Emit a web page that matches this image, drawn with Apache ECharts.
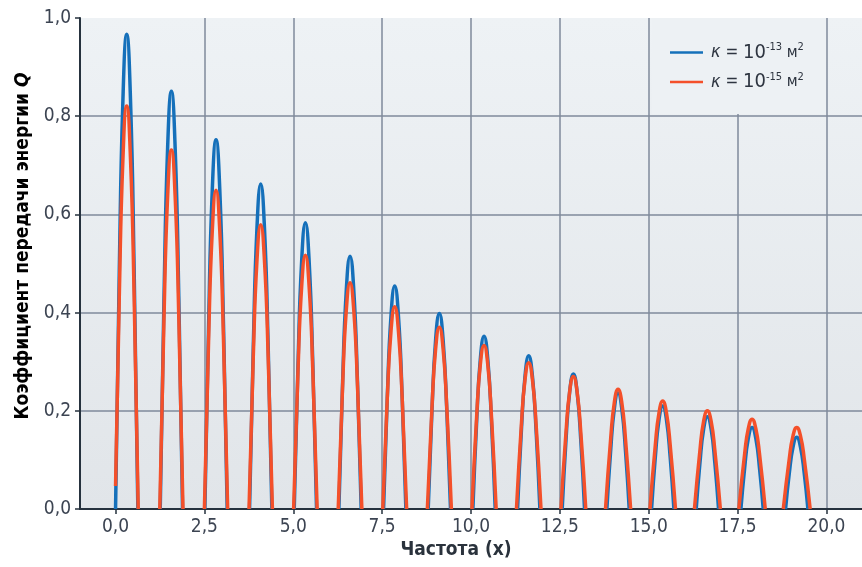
<!DOCTYPE html>
<html><head><meta charset="utf-8">
<script src="https://cdn.jsdelivr.net/npm/echarts@6/dist/echarts.min.js"></script>
<style>html,body{margin:0;padding:0;background:#fff}#c{width:862px;height:567px}</style>
</head><body><div id="c"></div>
<script>
const xTicks = [0, 2.5, 5, 7.5, 10, 12.5, 15, 17.5, 20];
const yTicks = [0, 0.2, 0.4, 0.6, 0.8, 1.0];
const seriesNames = ['k13', 'k15'];
const legendExponents = ['-13', '-15'];
const xTitle = 'Частота (x)';
const yTitle = 'Коэффициент передачи энергии ';
const yTitleSymbol = 'Q';

const blueData = [
[0,0],[0.105,0.484],[0.209,0.837],[0.314,0.967],[0.419,0.837],[0.524,0.484],[0.628,0],[0.94,'-'],
[1.257,0],[1.362,0.426],[1.466,0.737],[1.571,0.851],[1.676,0.737],[1.781,0.426],[1.885,0],[2.2,'-'],
[2.513,0],[2.618,0.376],[2.722,0.651],[2.827,0.752],[2.932,0.651],[3.037,0.376],[3.141,0],[3.45,'-'],
[3.770,0],[3.875,0.331],[3.979,0.573],[4.084,0.662],[4.189,0.573],[4.294,0.331],[4.398,0],[4.7,'-'],
[5.027,0],[5.132,0.292],[5.236,0.505],[5.341,0.583],[5.446,0.505],[5.551,0.292],[5.655,0],[5.97,'-'],
[6.283,0],[6.388,0.258],[6.492,0.446],[6.597,0.515],[6.702,0.446],[6.807,0.258],[6.911,0],[7.2,'-'],
[7.540,0],[7.645,0.227],[7.749,0.393],[7.854,0.454],[7.959,0.393],[8.064,0.227],[8.168,0],[8.5,'-'],
[8.796,0],[8.901,0.199],[9.005,0.345],[9.110,0.398],[9.215,0.345],[9.320,0.199],[9.424,0],[9.7,'-'],
[10.053,0],[10.158,0.176],[10.262,0.305],[10.367,0.352],[10.472,0.305],[10.577,0.176],[10.681,0],[11.0,'-'],
[11.310,0],[11.415,0.156],[11.519,0.270],[11.624,0.312],[11.729,0.270],[11.834,0.156],[11.938,0],[12.25,'-'],
[12.566,0],[12.671,0.138],[12.775,0.238],[12.880,0.275],[12.985,0.238],[13.090,0.138],[13.194,0],[13.5,'-'],
[13.823,0],[13.928,0.118],[14.032,0.204],[14.137,0.236],[14.242,0.204],[14.347,0.118],[14.451,0],[14.75,'-'],
[15.080,0],[15.185,0.105],[15.289,0.182],[15.394,0.210],[15.499,0.182],[15.604,0.105],[15.708,0],[16.0,'-'],
[16.336,0],[16.441,0.094],[16.545,0.163],[16.650,0.188],[16.755,0.163],[16.860,0.094],[16.964,0],[17.3,'-'],
[17.593,0],[17.698,0.083],[17.802,0.144],[17.907,0.166],[18.012,0.144],[18.117,0.083],[18.221,0],[18.5,'-'],
[18.850,0],[18.955,0.073],[19.059,0.126],[19.164,0.146],[19.269,0.126],[19.374,0.073],[19.478,0]
];

const orangeData = [
[0,0.047],[0.105,0.431],[0.209,0.716],[0.314,0.821],[0.419,0.716],[0.524,0.431],[0.638,0],[0.94,'-'],
[1.245,0],[1.362,0.386],[1.466,0.638],[1.571,0.731],[1.676,0.638],[1.781,0.386],[1.897,0],[2.2,'-'],
[2.500,0],[2.618,0.345],[2.722,0.567],[2.827,0.649],[2.932,0.567],[3.037,0.345],[3.154,0],[3.45,'-'],
[3.755,0],[3.875,0.310],[3.979,0.507],[4.084,0.579],[4.189,0.507],[4.294,0.310],[4.413,0],[4.7,'-'],
[5.010,0],[5.132,0.279],[5.236,0.453],[5.341,0.517],[5.446,0.453],[5.551,0.279],[5.672,0],[5.97,'-'],
[6.264,0],[6.388,0.251],[6.492,0.405],[6.597,0.461],[6.702,0.405],[6.807,0.251],[6.930,0],[7.2,'-'],
[7.518,0],[7.645,0.226],[7.749,0.362],[7.854,0.412],[7.959,0.362],[8.064,0.226],[8.190,0],[8.5,'-'],
[8.772,0],[8.901,0.205],[9.005,0.326],[9.110,0.370],[9.215,0.326],[9.320,0.205],[9.448,0],[9.7,'-'],
[10.026,0],[10.158,0.187],[10.262,0.294],[10.367,0.333],[10.472,0.294],[10.577,0.187],[10.708,0],[11.0,'-'],
[11.279,0],[11.415,0.169],[11.519,0.263],[11.624,0.298],[11.729,0.263],[11.834,0.169],[11.969,0],[12.25,'-'],
[12.531,0],[12.671,0.155],[12.775,0.239],[12.880,0.270],[12.985,0.239],[13.090,0.155],[13.229,0],[13.5,'-'],
[13.784,0],[13.928,0.142],[14.032,0.217],[14.137,0.244],[14.242,0.217],[14.347,0.142],[14.491,0],[14.75,'-'],
[15.035,0],[15.185,0.130],[15.289,0.196],[15.394,0.220],[15.499,0.196],[15.604,0.130],[15.753,0],[16.0,'-'],
[16.286,0],[16.441,0.120],[16.545,0.179],[16.650,0.200],[16.755,0.179],[16.860,0.120],[17.015,0],[17.3,'-'],
[17.536,0],[17.698,0.112],[17.802,0.164],[17.907,0.183],[18.012,0.164],[18.117,0.112],[18.278,0],[18.5,'-'],
[18.786,0],[18.955,0.103],[19.059,0.149],[19.164,0.166],[19.269,0.149],[19.374,0.103],[19.542,0]
];

const FONT = "'Liberation Sans Narrow', 'DejaVu Sans Condensed', 'Roboto', sans-serif";
const fmt = v => v.toFixed(1).replace('.', ',');
const chart = echarts.init(document.getElementById('c'), null, {renderer: 'canvas'});
const gridColor = '#7f8a9b';
chart.setOption({
  animation: false,
  backgroundColor: '#ffffff',
  grid: {
    left: 80, right: 0, top: 18, bottom: 58, show: true, borderWidth: 0,
    backgroundColor: new echarts.graphic.LinearGradient(0, 0, 0, 1, [
      {offset: 0, color: '#eef2f5'}, {offset: 1, color: '#e1e5e9'}
    ])
  },
  xAxis: {
    type: 'value', min: -1, max: 21, minInterval: 2.5, maxInterval: 2.5,
    axisLine: {show: true, onZero: false, lineStyle: {color: '#26323e', width: 2}},
    axisTick: {show: true, length: 5, customValues: xTicks, lineStyle: {color: '#26323e', width: 1.5}},
    axisLabel: {customValues: xTicks, formatter: fmt, color: '#3c4452', fontSize: 19, fontFamily: FONT, margin: 9},
    splitLine: {show: true, lineStyle: {color: ['transparent', gridColor, gridColor, gridColor, gridColor, gridColor, gridColor, gridColor, gridColor, gridColor, 'transparent'], width: 1.5}}
  },
  yAxis: {
    type: 'value', min: 0, max: 1, interval: 0.2,
    axisLine: {show: true, onZero: false, lineStyle: {color: '#26323e', width: 2}},
    axisTick: {show: true, length: 5, lineStyle: {color: '#26323e', width: 1.5}},
    axisLabel: {formatter: fmt, color: '#3c4452', fontSize: 19, fontFamily: FONT, margin: 9},
    splitLine: {show: true, lineStyle: {color: [gridColor, gridColor, gridColor, gridColor, gridColor, 'transparent'], width: 1.5}}
  },
  legend: {
    orient: 'vertical', left: 665, top: 37, itemWidth: 33, itemHeight: 14, itemGap: 9,
    icon: 'path://M0,6 L34,6 L34,8.4 L0,8.4 Z',
    data: seriesNames,
    formatter: name => {
      const e = legendExponents[seriesNames.indexOf(name)];
      return '{k|κ}{a| = }{n|10}{s|' + e + '}{m| м}{s|2}';
    },
    textStyle: {
      color: '#2e3540', fontFamily: FONT, padding: [0, 0, 0, 3],
      rich: {
        k: {fontSize: 18, fontStyle: 'italic', fontFamily: FONT, color: '#2e3540', lineHeight: 21},
        a: {fontSize: 17, fontFamily: FONT, color: '#2e3540', lineHeight: 21},
        n: {fontSize: 20, fontFamily: FONT, color: '#2e3540', lineHeight: 21},
        m: {fontSize: 16, fontFamily: FONT, color: '#2e3540', lineHeight: 21},
        s: {fontSize: 11, fontFamily: FONT, color: '#2e3540', lineHeight: 11, verticalAlign: 'top'}
      }
    }
  },
  graphic: [
    {type: 'rect', z: 1, silent: true, shape: {x: 652, y: 18, width: 174, height: 96}, style: {fill: '#edf1f4'}},
    {type: 'text', z: 5, x: 23, y: 246, rotation: Math.PI / 2,
      style: {text: '{t|' + yTitle + '}{q|' + yTitleSymbol + '}', align: 'center', verticalAlign: 'middle',
        rich: {t: {fontSize: 19, fontWeight: 'bold', fontFamily: FONT, color: '#2a323c'},
               q: {fontSize: 19, fontWeight: 'bold', fontStyle: 'italic', fontFamily: FONT, color: '#2a323c'}}}},
    {type: 'text', z: 5, x: 456, y: 550,
      style: {text: xTitle, align: 'center', verticalAlign: 'middle', fontSize: 19, fontWeight: 'bold', fontFamily: FONT, fill: '#2a323c'}}
  ],
  series: [
    {name: seriesNames[0], type: 'line', data: blueData, smooth: 0.5, symbol: 'none', showSymbol: false, connectNulls: false,
     lineStyle: {color: '#1570ba', width: 3.5}, itemStyle: {color: '#1570ba'}, z: 3},
    {name: seriesNames[1], type: 'line', data: orangeData, smooth: 0.5, symbol: 'none', showSymbol: false, connectNulls: false,
     lineStyle: {color: '#f4502a', width: 3.5}, itemStyle: {color: '#f4502a'}, z: 4}
  ]
});
</script></body></html>
